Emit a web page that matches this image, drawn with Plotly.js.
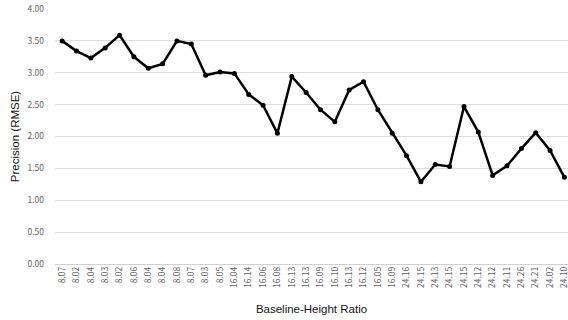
<!DOCTYPE html>
<html>
<head>
<meta charset="utf-8">
<script src="https://cdn.plot.ly/plotly-3.0.1.min.js"></script>
<style>html,body{margin:0;padding:0;background:#fff;}#chart{width:568px;height:320px;}</style>
</head>
<body>
<div id="chart"></div>
<script>
const ratioLabels = ["8.07","8.02","8.04","8.03","8.02","8.06","8.04","8.04","8.08","8.07","8.03","8.05",
  "16.04","16.14","16.06","16.08","16.13","16.13","16.09","16.10","16.13","16.12","16.05","16.09",
  "24.16","24.15","24.13","24.15","24.15","24.12","24.12","24.11","24.26","24.21","24.02","24.10"];
const rmse = [3.50,3.34,3.23,3.39,3.59,3.25,3.07,3.14,3.50,3.45,2.96,3.01,
  2.99,2.66,2.49,2.05,2.94,2.69,2.42,2.23,2.73,2.86,2.42,2.05,
  1.70,1.29,1.56,1.53,2.47,2.07,1.39,1.54,1.81,2.06,1.78,1.36];
const yTicks = [0,0.5,1,1.5,2,2.5,3,3.5,4];

const idx = ratioLabels.map((_, i) => i);
const tickFont = "Noto Sans CJK KR, Noto Sans, sans-serif";
const titleFont = "Liberation Sans, Arial, sans-serif";

Plotly.newPlot("chart", [{
  x: idx, y: rmse, type: "scatter", mode: "lines+markers",
  line: {color: "#000", width: 2.5},
  marker: {color: "#000", size: 5},
  hoverinfo: "skip"
}], {
  width: 568, height: 320,
  margin: {l: 55, r: 0, t: 9, b: 56},
  paper_bgcolor: "#fff", plot_bgcolor: "#fff",
  showlegend: false,
  font: {family: tickFont},
  xaxis: {
    range: [-0.5, 35.25],
    tickmode: "array", tickvals: idx, ticktext: ratioLabels,
    tickangle: -90, tickfont: {size: 8.5, color: "#5f5f5f"},
    ticklabeloverflow: "allow",
    showgrid: false, zeroline: false, showline: false, ticks: "",
    title: {text: "Baseline-Height Ratio", font: {family: titleFont, size: 11.5, color: "#111"}, standoff: 18}
  },
  yaxis: {
    range: [0, 4], tickmode: "array", tickvals: yTicks,
    ticktext: yTicks.map(v => v.toFixed(2)),
    tickfont: {size: 8.5, color: "#5f5f5f"},
    ticklabelstandoff: 10,
    showgrid: true, gridcolor: "#dcdcdc", gridwidth: 1,
    zeroline: true, zerolinecolor: "#d0d0d0", zerolinewidth: 1,
    showline: false, ticks: "", ticklen: 0,
    title: {text: "Precision (RMSE)", font: {family: titleFont, size: 11.5, color: "#111"}, standoff: 5}
  }
}, {staticPlot: true});
</script>
</body>
</html>
